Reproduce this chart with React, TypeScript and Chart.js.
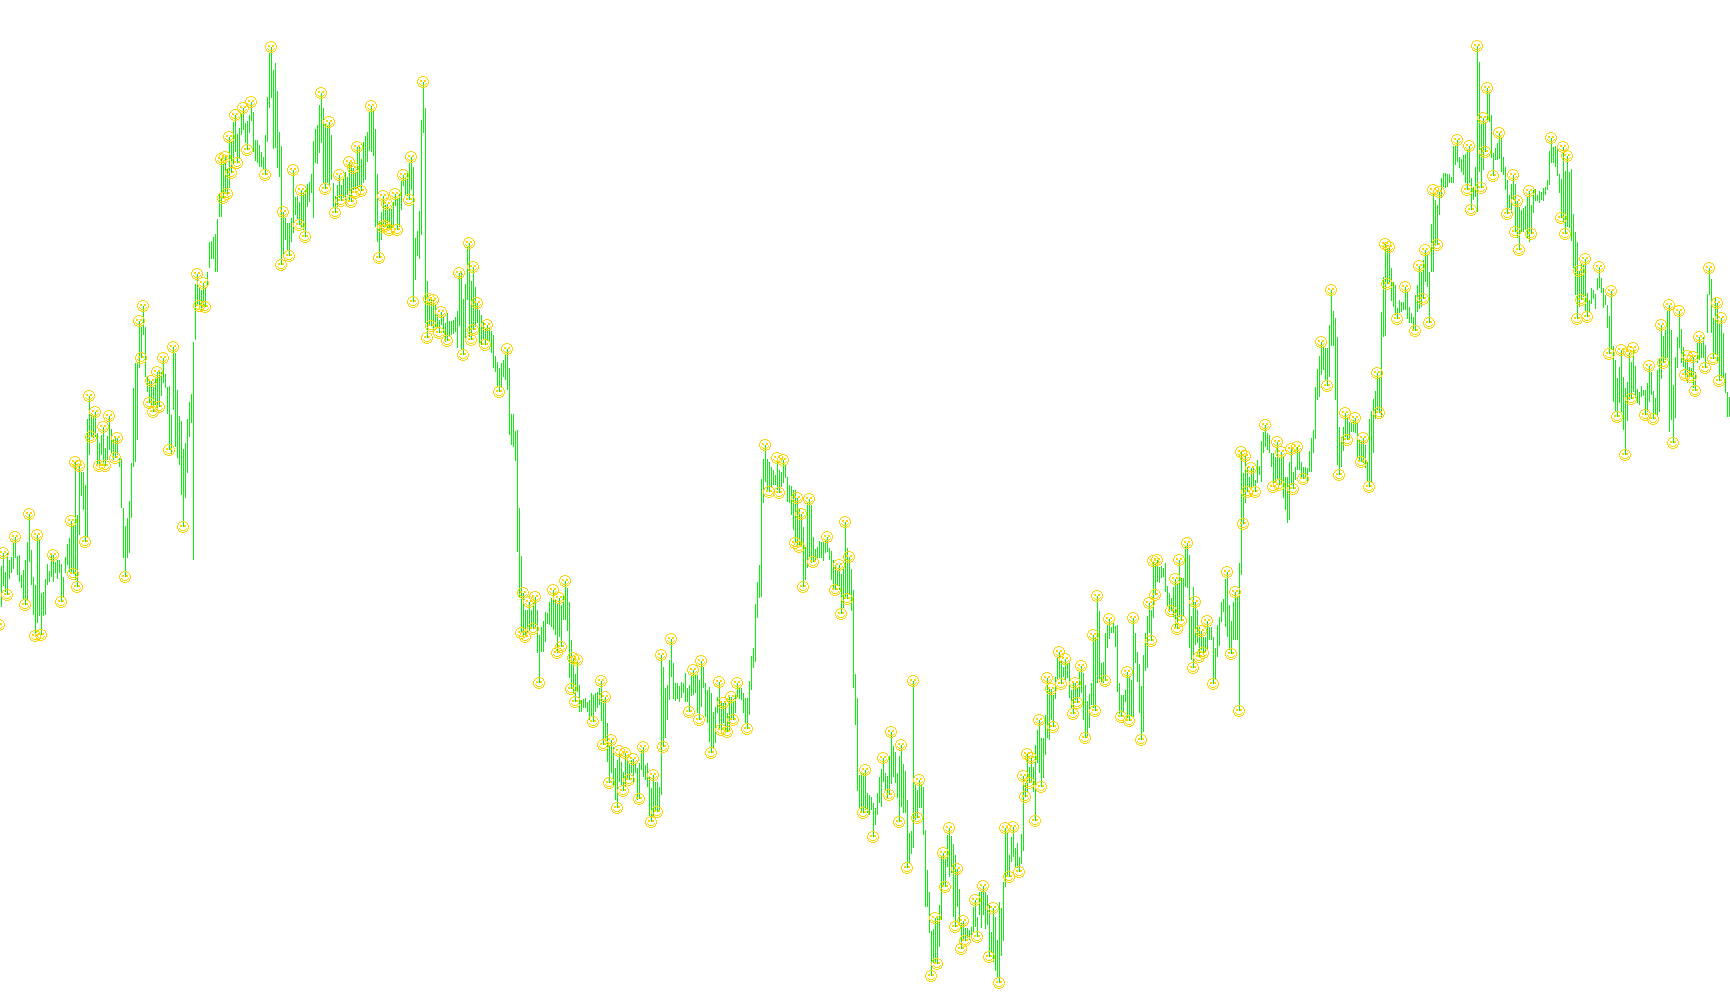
import React, { useEffect, useRef } from "react";
import { Chart, registerables } from "chart.js";

Chart.register(...registerables);

// Price axis is unlabelled in the reference: values are read on a 0-1005 inverted scale.
const highs = [
600,566,553,572,553,560,557,542,537,556,
555,575,570,560,542,514,550,577,585,535,
540,593,592,579,564,571,555,555,562,560,
560,564,577,557,544,538,521,526,462,515,
466,472,472,485,419,396,415,416,412,433,
443,435,427,448,436,416,429,439,438,438,
458,459,508,526,518,501,463,388,363,363,
321,327,306,327,376,380,381,387,377,372,
372,372,358,374,387,386,415,347,353,390,
416,421,449,443,419,402,394,342,284,274,
287,290,283,287,272,242,241,237,234,219,
193,159,164,157,168,137,142,122,115,134,
128,113,108,123,121,115,102,112,140,140,
145,152,157,135,97,53,47,70,63,91,
132,146,212,218,223,223,218,170,197,196,
202,190,193,190,184,182,174,141,129,125,
105,93,108,123,125,122,135,183,196,185,
175,185,177,172,177,162,164,168,173,147,
147,159,142,136,132,111,106,110,129,174,
221,212,196,205,204,208,209,202,194,199,
194,181,175,178,173,162,157,167,238,231,
211,120,82,108,281,299,300,300,305,315,
320,312,317,323,313,321,321,320,317,311,
273,273,299,284,246,243,281,267,287,303,
310,315,322,328,325,328,331,335,356,362,
368,363,360,355,349,368,414,414,431,430,
508,556,593,610,610,602,610,602,597,610,
635,627,621,612,613,602,598,590,600,603,
598,605,594,581,588,602,640,658,674,660,
685,700,699,698,702,700,693,695,693,692,
688,681,700,697,723,745,740,747,768,760,
751,762,772,753,757,763,760,759,763,768,
763,750,747,765,763,777,788,775,782,782,
787,655,667,688,685,660,639,663,683,683,
686,682,683,673,688,685,675,670,675,675,
680,661,667,683,690,687,693,712,707,697,
682,702,703,703,713,697,697,702,695,683,
687,688,693,698,698,681,656,648,604,582,
565,479,459,445,459,462,467,470,475,458,
470,472,460,465,477,485,486,490,490,498,
508,514,527,547,503,499,505,537,549,547,
541,542,542,540,537,548,551,560,565,570,
565,574,568,522,548,557,569,590,674,698,
775,773,773,770,793,795,797,803,808,793,
777,769,758,773,776,756,732,746,752,773,
756,745,764,771,800,833,831,681,785,790,
780,784,787,830,870,892,931,929,918,918,
905,856,853,859,835,828,836,844,855,869,
889,923,921,928,928,930,927,907,900,917,
892,892,886,892,895,905,932,908,917,940,
902,908,882,828,833,855,837,827,848,843,
857,834,776,783,754,767,758,767,745,730,
720,738,738,715,678,689,689,695,677,658,
652,660,667,659,663,663,690,683,683,688,
672,666,673,685,701,694,683,635,637,596,
611,663,662,633,625,619,627,623,626,625,
683,695,695,690,672,677,680,618,633,652,
664,686,655,633,616,603,610,561,563,560,
567,566,568,563,586,593,598,587,579,583,
560,578,578,546,543,555,616,587,602,610,
627,631,637,637,621,627,627,637,648,625,
617,602,599,579,572,605,621,602,592,597,
563,452,473,456,467,477,468,468,480,460,
466,441,432,425,433,435,453,453,457,442,
457,452,457,477,477,462,449,472,467,447,
452,462,467,467,468,451,438,430,387,369,
356,342,347,348,348,325,290,311,318,337,
427,437,427,413,417,422,423,420,418,423,
440,442,438,445,462,419,411,399,391,373,
377,312,277,244,248,247,268,282,285,308,
300,302,302,287,292,307,313,317,295,285,
266,272,260,250,255,272,224,190,200,205,
192,178,173,173,174,174,177,146,145,140,
157,159,155,154,150,146,178,187,167,46,
62,123,118,123,88,93,115,153,148,143,
133,138,157,167,180,195,184,175,184,201,
207,210,208,206,197,191,205,190,189,195,
191,192,188,187,180,151,138,147,146,146,
174,179,147,171,156,172,169,214,232,242,
271,263,265,259,293,300,288,290,294,278,
267,278,288,295,305,316,291,346,360,378,
367,350,377,388,382,352,362,348,366,389,
392,386,390,390,383,366,372,391,398,370,
358,325,336,330,310,305,330,385,357,337,
311,329,347,360,356,367,368,357,372,342,
337,343,337,345,294,268,279,318,298,303,
323,318,333,373,392,397,
];

const lows = [
625,607,586,592,595,579,573,569,558,575,
582,588,600,605,600,562,585,615,636,623,
616,635,616,615,585,582,577,582,573,579,
573,602,597,573,565,572,573,574,580,587,
535,496,510,542,537,455,437,438,437,465,
466,455,466,466,460,450,453,460,458,455,
467,508,558,577,558,553,518,467,462,440,
368,358,335,377,392,403,405,412,405,408,
407,396,383,388,414,450,455,410,447,458,
465,495,527,498,473,437,423,560,340,306,
306,312,307,307,286,268,259,259,272,272,
217,217,198,193,194,188,173,165,152,163,
158,135,130,143,150,133,121,152,161,163,
167,167,170,175,142,108,98,149,148,168,
177,265,257,240,250,256,242,233,215,220,
225,227,230,237,207,202,193,218,163,164,
153,143,183,189,183,185,180,208,213,207,
198,201,198,200,195,200,202,190,193,188,
187,191,183,180,162,151,152,156,227,242,
258,240,227,226,228,230,230,226,206,230,
227,210,186,195,196,200,190,302,280,256,
259,235,133,323,338,325,326,333,327,328,
333,325,333,342,341,337,335,334,332,348,
326,350,355,338,300,337,340,330,327,323,
347,345,340,345,340,342,353,368,372,387,
392,387,377,380,390,435,445,447,461,552,
597,633,636,637,633,630,627,629,627,653,
683,652,652,642,624,625,627,630,635,653,
637,647,620,620,631,678,689,693,702,692,
712,712,708,708,712,720,717,722,712,708,
705,721,745,740,762,783,773,787,800,808,
782,785,791,787,780,780,773,783,773,800,
799,770,777,780,787,817,822,817,810,812,
810,795,747,738,720,700,677,699,701,699,
702,698,693,702,702,712,696,695,693,713,
720,707,688,717,723,742,753,748,743,713,
730,730,723,730,732,730,720,720,713,697,
699,700,713,723,729,715,690,668,662,618,
598,597,503,482,492,492,487,485,485,490,
493,487,483,478,502,503,515,530,543,545,
547,547,587,580,568,558,563,562,562,560,
558,558,561,553,552,560,580,590,590,585,
590,614,608,597,599,595,611,688,725,791,
808,811,813,810,813,815,810,837,825,815,
803,807,782,790,799,795,784,777,783,798,
822,807,813,813,868,863,854,848,820,818,
808,808,835,907,907,933,976,963,962,964,
947,920,887,887,867,877,873,917,927,907,
923,949,939,941,938,940,937,932,927,937,
915,928,915,929,925,957,953,962,971,978,
983,956,941,887,875,877,862,857,867,868,
872,864,851,797,793,783,781,792,821,763,
773,787,778,755,738,740,720,727,699,680,
678,684,677,680,678,698,708,714,700,703,
697,693,720,738,737,728,705,708,711,683,
682,683,683,681,648,639,633,633,647,692,
714,717,713,702,718,721,717,717,663,682,
713,740,732,671,668,633,641,618,595,582,
583,578,577,592,607,612,611,617,628,629,
617,621,617,587,588,648,660,668,645,643,
657,650,653,653,650,640,640,684,680,657,
646,622,612,627,637,650,654,640,640,640,
711,575,524,503,492,488,488,487,492,483,
475,482,453,447,450,453,467,487,482,480,
485,483,498,510,523,520,485,489,480,470,
470,478,479,478,481,472,472,453,439,400,
397,375,370,380,386,377,346,346,400,465,
475,467,451,437,440,440,432,432,433,458,
462,462,463,468,482,487,482,453,419,410,
413,417,337,336,284,283,301,307,315,319,
313,312,310,310,319,323,323,330,331,312,
309,307,299,282,287,323,272,272,246,245,
215,198,187,188,187,183,183,183,165,162,
168,172,175,183,190,183,210,200,197,212,
172,188,170,152,122,122,158,176,160,160,
159,172,175,190,214,208,213,200,232,238,
250,232,232,230,238,242,234,213,201,201,
203,200,201,195,190,185,163,163,167,176,
193,218,222,234,227,228,241,268,295,319,
307,300,297,312,317,313,304,299,309,290,
288,293,308,305,328,354,350,402,412,417,
403,412,430,455,421,400,399,392,398,403,
405,397,396,415,412,402,395,419,415,415,
412,379,363,360,358,432,420,443,418,368,
348,363,367,375,383,379,377,388,391,363,
360,358,358,368,333,295,333,359,355,363,
381,378,377,393,417,417,
];

// Bars that carry an up-fractal smiley on their high
const highMarks = [
2,8,15,19,27,36,38,40,45,48,52,55,59,70,72,76,79,82,87,99,102,111,113,115,118,122,126,136,142,147,151,161,165,170,175,177,179,186,192,194,198,202,206,212,215,217,221,230,235,237,239,244,254,262,265,268,277,280,283,287,289,301,303,306,310,313,317,322,327,331,336,347,351,360,362,366,369,383,389,392,399,401,405,414,420,423,425,433,442,446,451,457,460,468,472,475,479,482,488,492,497,503,507,512,514,516,520,524,526,530,533,538,541,547,549,555,564,567,575,577,579,588,590,594,598,601,604,614,618,621,623,626,633,639,641,646,649,661,666,673,678,682,689,693,695,703,710,713,717,720,729,735,739,742,744,750,757,759,765,776,782,784,790,793,800,806,811,815,817,825,831,835,840,844,847,850,855,859,861,
];

// Bars that carry a down-fractal smiley on their low
const lowMarks = [
0,4,13,18,21,31,37,39,43,46,50,53,58,63,71,75,77,80,85,92,100,103,112,114,116,119,124,133,141,145,150,153,163,168,171,176,178,181,190,192,193,195,199,205,207,214,216,220,224,232,236,237,243,250,261,263,267,270,279,281,286,288,297,302,305,309,312,315,320,326,329,332,345,350,356,361,364,367,374,385,390,398,400,402,407,418,421,424,432,437,445,450,454,459,466,469,473,478,481,483,489,495,500,505,510,513,515,518,521,527,531,537,539,543,548,553,561,565,571,576,578,586,589,591,597,600,602,607,616,620,622,624,628,637,640,647,652,664,670,674,681,685,690,694,699,708,712,715,719,734,736,741,743,747,754,758,760,766,781,783,789,791,794,805,809,813,816,823,827,832,837,843,846,848,853,857,860,
];

const BAR_COLOR = "#0CEE0C";
const MARK_COLOR = "#FFD700";

const SMILEY = [
  "....####....",
  "..##....##..",
  ".#........#.",
  ".#........#.",
  "#..##..##..#",
  "#..##..##..#",
  "#..........#",
  "#.#......#.#",
  ".#.#....#.#.",
  ".#..####..#.",
  "..##....##..",
  "....####....",
];

function makeSmiley(): HTMLCanvasElement {
  const c = document.createElement("canvas");
  c.width = 13;
  c.height = 14;
  const g = c.getContext("2d")!;
  g.fillStyle = MARK_COLOR;
  SMILEY.forEach((row, r) => {
    [...row].forEach((ch, col) => {
      if (ch === "#") g.fillRect(col, r + 1, 1, 1);
    });
  });
  return c;
}

export default function App() {
  const ref = useRef<HTMLCanvasElement>(null);
  useEffect(() => {
    const smiley = makeSmiley();
    const marks = (idx: number[], src: number[], order: number) => ({
      type: "line" as const,
      data: idx.map((k) => ({ x: k, y: src[k] })),
      showLine: false,
      pointStyle: smiley,
      pointRadius: 6,
      order,
      clip: false as const,
    });
    const chart = new Chart(ref.current!, {
      type: "bar",
      data: {
        datasets: [
          marks(highMarks, highs, 0) as any,
          marks(lowMarks, lows, 0) as any,
          {
            type: "bar",
            data: highs.map((h, k) => ({ x: k, y: [lows[k], h] })) as any,
            backgroundColor: BAR_COLOR,
            borderWidth: 0,
            barThickness: 1,
            inflateAmount: 0,
            order: 1,
          },
        ],
      },
      options: {
        animation: false,
        responsive: false,
        events: [],
        layout: { padding: 0, autoPadding: false },
        plugins: { legend: { display: false }, tooltip: { enabled: false } },
        scales: {
          x: { type: "linear", display: false, min: 0.25, max: 865.25, offset: false },
          y: { type: "linear", display: false, min: 0, max: 1005, reverse: true },
        },
      },
    });
    return () => chart.destroy();
  }, []);
  return (
    <canvas
      ref={ref}
      width={1730}
      height={1005}
      style={{ position: "absolute", left: 0, top: 0, width: 1730, height: 1005, display: "block" }}
    />
  );
}
